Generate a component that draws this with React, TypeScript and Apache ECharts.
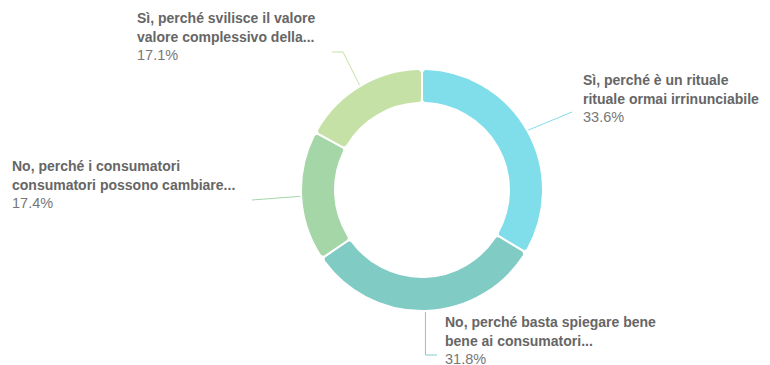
import React, { useEffect, useRef } from "react";
import * as echarts from "echarts";

const nameLines: string[][] = [
  ["Sì, perché è un rituale", "rituale ormai irrinunciabile"],
  ["No, perché basta spiegare bene", "bene ai consumatori..."],
  ["No, perché i consumatori", "consumatori possono cambiare..."],
  ["Sì, perché svilisce il valore", "valore complessivo della..."],
];
const values: number[] = [33.6, 31.8, 17.4, 17.1];
const colors: string[] = ["#80deea", "#80cbc4", "#a5d6a7", "#c5e1a5"];

export default function App() {
  const ref = useRef<HTMLDivElement>(null);
  useEffect(() => {
    document.body.style.margin = "0";
    const chart = echarts.init(ref.current!, undefined, { renderer: "svg" });
    const labelPos = [
      { x: 583, y: 70 },
      { x: 445, y: 312 },
      { x: 12, y: 156 },
      { x: 137, y: 8 },
    ];
    chart.setOption({
      animation: false,
      color: colors,
      series: [
        {
          type: "pie",
          center: [422, 190],
          radius: [87, 121],
          startAngle: 90,
          clockwise: true,
          itemStyle: { borderColor: "#fff", borderWidth: 2, borderRadius: 4 },
          label: {
            show: true,
            position: "outside",
            formatter: (p: any) => {
              const l = nameLines[p.dataIndex];
              return `{n|${l[0]}}\n{n|${l[1]}}\n{v|${p.value.toFixed(1)}%}`;
            },
            rich: {
              n: {
                fontFamily: "Liberation Sans, Arial, sans-serif",
                fontSize: 14,
                fontWeight: "bold",
                color: "#666666",
                lineHeight: 19,
              },
              v: {
                fontFamily: "Liberation Sans, Arial, sans-serif",
                fontSize: 14.5,
                color: "#777777",
                lineHeight: 17,
              },
            },
          },
          labelLine: { show: true, length: 20, length2: 10, lineStyle: { width: 1 } },
          labelLayout: (params: any) => {
            const i = params.dataIndex;
            const pos = labelPos[i];
            const s = params.labelLinePoints ? params.labelLinePoints[0] : [0, 0];
            let pts: number[][];
            if (i === 0) pts = [s, [572, 112]];
            else if (i === 1) pts = [s, [s[0], 355], [437, 355]];
            else if (i === 2) pts = [s, [252, 200]];
            else pts = [s, [343, 52], [332, 52]];
            return {
              x: pos.x,
              y: pos.y,
              align: "left",
              verticalAlign: "top",
              labelLinePoints: pts,
            };
          },
          data: values.map((v, i) => ({
            value: v,
            name: nameLines[i].join(" "),
            labelLine: { lineStyle: { color: colors[i] } },
          })),
        },
      ],
    });
    return () => chart.dispose();
  }, []);
  return <div ref={ref} style={{ width: 770, height: 365 }} />;
}
